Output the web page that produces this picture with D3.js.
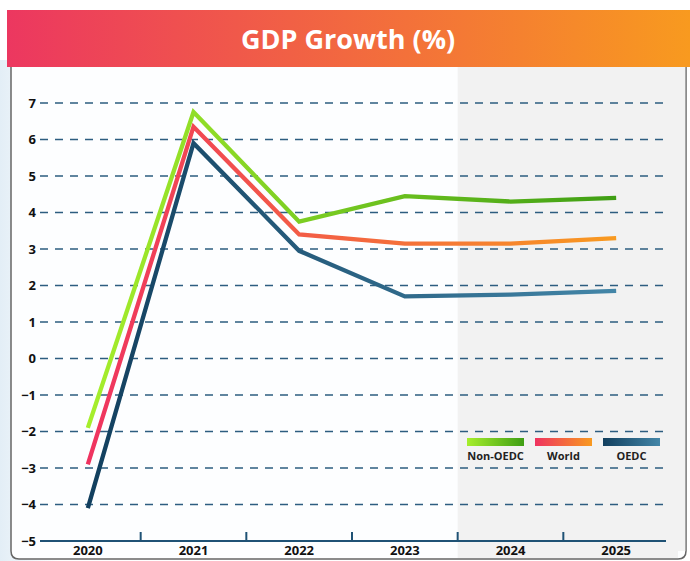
<!DOCTYPE html>
<html>
<head>
<meta charset="utf-8">
<script src="https://cdn.jsdelivr.net/npm/d3@7"></script>
<style>
  body { margin: 0; background: #fff; }
  svg { display: block; }
</style>
</head>
<body>
<div id="chart"></div>
<script>
// categories and series
var years = ["2020", "2021", "2022", "2023", "2024", "2025"];
var nonOecd = [-1.9, 6.75, 3.75, 4.45, 4.3, 4.4];
var world = [-2.9, 6.35, 3.4, 3.15, 3.15, 3.3];
var oecd = [-4.1, 5.9, 2.95, 1.7, 1.75, 1.85];
var yTicks = [-5, -4, -3, -2, -1, 0, 1, 2, 3, 4, 5, 6, 7];
var seriesNames = ["Non-OEDC", "World", "OEDC"];

var W = 690, H = 561;
var svg = d3.select("#chart").append("svg").attr("width", W).attr("height", H);
var defs = svg.append("defs");

// gradients
function grad(id, c1, c2) {
  var g = defs.append("linearGradient").attr("id", id)
    .attr("x1", "0%").attr("x2", "100%").attr("y1", "0%").attr("y2", "0%");
  g.append("stop").attr("offset", "0%").attr("stop-color", c1);
  g.append("stop").attr("offset", "100%").attr("stop-color", c2);
}
grad("hdr", "#ec3760", "#f89a1f");
grad("bg", "#e3eef6", "#ffffff");
grad("gGreen", "#a6ee2c", "#3f9e14");
grad("gWorld", "#ef3360", "#f89a20");
grad("gOecd", "#123f5e", "#4386a8");

var seriesGrads = ["gGreen", "gWorld", "gOecd"];
var seriesData = [nonOecd, world, oecd];

// page background tint on the left
svg.append("rect").attr("x", 0).attr("y", 60).attr("width", 60).attr("height", H - 60)
  .attr("fill", "url(#bg)");

// panel
var px0 = 11, px1 = 686, py0 = 66, py1 = 559;
svg.append("path")
  .attr("d", "M" + px0 + "," + py0 + " L" + px0 + "," + (py1 - 8) +
    " Q" + px0 + "," + py1 + " " + (px0 + 8) + "," + py1 +
    " L" + (px1 - 8) + "," + py1 + " Q" + px1 + "," + py1 + " " + px1 + "," + (py1 - 8) +
    " L" + px1 + "," + py0)
  .attr("fill", "#fdfeff").attr("stroke", "#666").attr("stroke-width", 1.5);

// scales
var x = d3.scaleBand().domain(years).range([35, 669]);
var y = d3.scaleLinear().domain([-5, 7]).range([541, 103]);
var cx = function(i) { return x(years[i]) + x.bandwidth() / 2; };

// shaded forecast area
svg.append("rect")
  .attr("x", x("2024")).attr("y", py0)
  .attr("width", px1 - 0.75 - x("2024")).attr("height", py1 - 8 - py0)
  .attr("fill", "#f2f2f2");
svg.append("rect")
  .attr("x", x("2024")).attr("y", py1 - 8)
  .attr("width", px1 - 8 - x("2024")).attr("height", 7)
  .attr("fill", "#f2f2f2");

// header
svg.append("rect").attr("x", 7).attr("y", 10).attr("width", W - 7).attr("height", 57)
  .attr("fill", "url(#hdr)");
svg.append("text").attr("x", 348).attr("y", 49)
  .attr("text-anchor", "middle")
  .attr("font-family", "Open Sans, sans-serif").attr("font-weight", 700)
  .attr("font-size", 27).attr("fill", "#fff")
  .text("GDP Growth (%)");

// gridlines
svg.append("g").selectAll("line")
  .data(yTicks.filter(function(d) { return d > -5; }))
  .enter().append("line")
  .attr("x1", 40).attr("x2", 666)
  .attr("y1", function(d) { return y(d); }).attr("y2", function(d) { return y(d); })
  .attr("stroke", "#2d5d80").attr("stroke-width", 1.3)
  .attr("stroke-dasharray", "8,7");

// y axis labels
var yAxis = d3.axisLeft(y).tickValues(yTicks).tickSize(0).tickPadding(0).tickFormat(d3.format("d"));
var yg = svg.append("g").attr("transform", "translate(36,0)").call(yAxis);
yg.select(".domain").remove();
yg.selectAll("text")
  .attr("font-family", "Open Sans, sans-serif").attr("font-weight", 700)
  .attr("font-size", 13).attr("fill", "#111");

// x axis
var xAxis = d3.axisBottom(x).tickSize(0).tickPadding(5);
var xg = svg.append("g").attr("transform", "translate(0,541)").call(xAxis);
xg.select(".domain").remove();
xg.selectAll("text")
  .attr("font-family", "Open Sans, sans-serif").attr("font-weight", 700)
  .attr("font-size", 13).attr("fill", "#111");
svg.append("line").attr("x1", 40).attr("x2", 666).attr("y1", 541).attr("y2", 541)
  .attr("stroke", "#1f5275").attr("stroke-width", 2);
svg.append("g").selectAll("line")
  .data(years.slice(1))
  .enter().append("line")
  .attr("x1", function(d) { return x(d); }).attr("x2", function(d) { return x(d); })
  .attr("y1", 532).attr("y2", 541)
  .attr("stroke", "#1f5275").attr("stroke-width", 2);

// lines
var line = d3.line()
  .x(function(d, i) { return cx(i); })
  .y(function(d) { return y(d); });

[2, 1, 0].forEach(function(k) {
  svg.append("path")
    .datum(seriesData[k])
    .attr("d", line)
    .attr("fill", "none")
    .attr("stroke", "url(#" + seriesGrads[k] + ")")
    .attr("stroke-width", 4.3)
    .attr("stroke-linejoin", "miter");
});

// legend
var lg = svg.append("g");
seriesNames.forEach(function(name, i) {
  var lx = 467 + i * 68;
  lg.append("rect").attr("x", lx).attr("y", 438).attr("width", 57).attr("height", 8)
    .attr("fill", "url(#" + seriesGrads[i] + ")");
  lg.append("text").attr("x", lx + 28.5).attr("y", 460)
    .attr("text-anchor", "middle")
    .attr("font-family", "Open Sans, sans-serif").attr("font-weight", 700)
    .attr("font-size", 11).attr("fill", "#222")
    .text(name);
});
</script>
</body>
</html>
